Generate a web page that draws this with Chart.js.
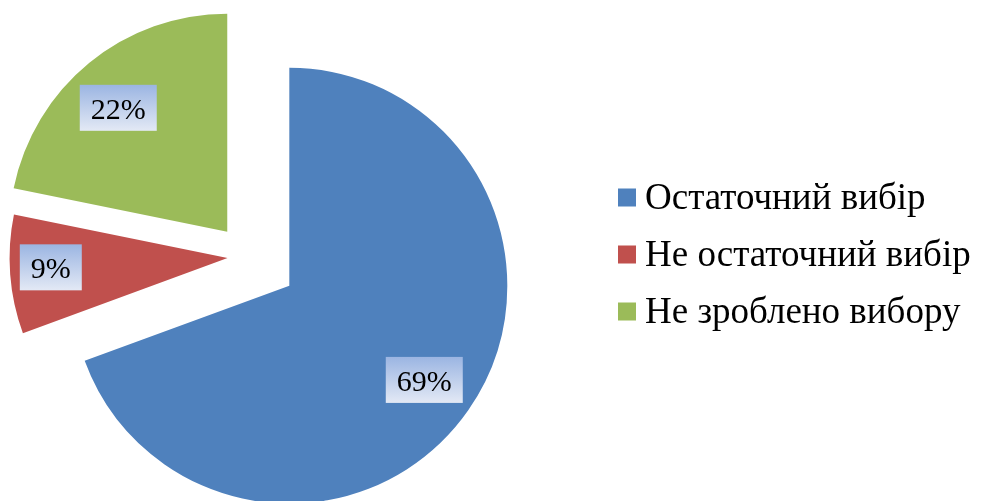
<!DOCTYPE html>
<html>
<head>
<meta charset="utf-8">
<script src="https://cdn.jsdelivr.net/npm/chart.js@4.4.1/dist/chart.umd.min.js"></script>
<style>
  html, body { margin: 0; padding: 0; background: #ffffff; }
  #wrap { width: 983px; height: 501px; }
</style>
</head>
<body>
<div id="wrap"><canvas id="c" width="983" height="501"></canvas></div>
<script>
// ---- data ----
const categories = ['Остаточний вибір', 'Не остаточний вибір', 'Не зроблено вибору'];
const shares = [69.4, 8.8, 21.8];

// exploded pie: push each slice out from the common centre (style)
const explodePlugin = {
  id: 'explode',
  afterDatasetUpdate(chart, args, opts) {
    const dist = opts.distances || [];
    args.meta.data.forEach((arc, i) => {
      const d = dist[i] || 0;
      const mid = (arc.startAngle + arc.endAngle) / 2;
      arc.x += Math.cos(mid) * d;
      arc.y += Math.sin(mid) * d;
    });
  }
};

// percentage labels inside slices, on gradient boxes
const pctLabelPlugin = {
  id: 'pctLabels',
  afterDatasetsDraw(chart, args, opts) {
    const ctx = chart.ctx;
    const meta = chart.getDatasetMeta(0);
    const values = chart.data.datasets[0].data;
    const total = values.reduce((a, b) => a + b, 0);
    ctx.save();
    ctx.font = opts.font;
    meta.data.forEach((arc, i) => {
      const mid = (arc.startAngle + arc.endAngle) / 2 + (opts.nudgeDeg[i] || 0) * Math.PI / 180;
      const r = arc.outerRadius * opts.radial[i];
      const cx = arc.x + Math.cos(mid) * r;
      const cy = arc.y + Math.sin(mid) * r;
      const text = Math.round(values[i] / total * 100) + '%';
      const tw = ctx.measureText(text).width;
      const w = tw + opts.padX * 2;
      const h = opts.boxHeight;
      const x0 = cx - w / 2, y0 = cy - h / 2;
      const g = ctx.createLinearGradient(0, y0, 0, y0 + h);
      g.addColorStop(0, opts.gradTop);
      g.addColorStop(1, opts.gradBottom);
      ctx.fillStyle = g;
      ctx.fillRect(x0, y0, w, h);
      ctx.fillStyle = '#000000';
      ctx.textAlign = 'center';
      ctx.textBaseline = 'alphabetic';
      ctx.fillText(text, cx, cy + opts.baselineShift);
    });
    ctx.restore();
  }
};

// legend on the right
const sideLegendPlugin = {
  id: 'sideLegend',
  afterDraw(chart, args, opts) {
    const ctx = chart.ctx;
    const ds = chart.data.datasets[0];
    ctx.save();
    ctx.font = opts.font;
    ctx.textAlign = 'left';
    ctx.textBaseline = 'alphabetic';
    chart.data.labels.forEach((lab, i) => {
      const cy = opts.top + i * opts.rowGap;
      ctx.fillStyle = ds.backgroundColor[i];
      ctx.fillRect(opts.left, cy - opts.box / 2, opts.box, opts.box);
      ctx.fillStyle = '#000000';
      ctx.fillText(lab, opts.left + opts.box + opts.gap, cy + opts.baselineShift);
    });
    ctx.restore();
  }
};

new Chart(document.getElementById('c'), {
  type: 'pie',
  data: {
    labels: categories,
    datasets: [{
      data: shares,
      backgroundColor: ['#4f81bd', '#c0504d', '#9bbb59'],
      borderWidth: 0
    }]
  },
  options: {
    responsive: false,
    devicePixelRatio: 1,
    animation: false,
    radius: 218,
    rotation: 0,
    layout: { padding: { left: 0, right: 488, top: 12, bottom: 0 } },
    plugins: {
      legend: { display: false },
      tooltip: { enabled: false },
      explode: { distances: [51, 20, 32] },
      pctLabels: {
        font: '30px "Liberation Serif", "Times New Roman", serif',
        radial: [0.755, 0.812, 0.757],
        nudgeDeg: [0, 1.3, -2.1],
        padX: 11,
        boxHeight: 46,
        gradTop: '#9bb5e2',
        gradBottom: '#e3e9f5',
        baselineShift: 11
      },
      sideLegend: {
        font: '37px "Liberation Serif", "Times New Roman", serif',
        left: 618,
        top: 197.5,
        rowGap: 57,
        box: 18,
        gap: 9,
        baselineShift: 11.5
      }
    }
  },
  plugins: [explodePlugin, pctLabelPlugin, sideLegendPlugin]
});
</script>
</body>
</html>
